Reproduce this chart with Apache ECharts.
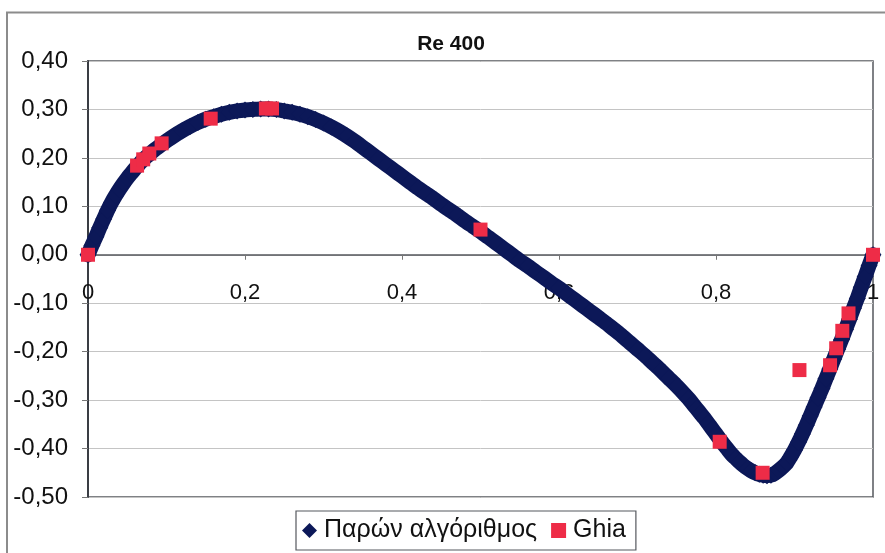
<!DOCTYPE html>
<html>
<head>
<meta charset="utf-8">
<script src="https://cdn.jsdelivr.net/npm/echarts@6/dist/echarts.min.js"></script>
<style>
  html, body { margin: 0; padding: 0; background: #ffffff; }
  #chart { width: 885px; height: 553px; }
</style>
</head>
<body>
<div id="chart"></div>
<script>
// Vertical velocity v along the horizontal centreline, Re = 400

const titleText = 'Re 400';
const seriesNames = ['Παρών αλγόριθμος', 'Ghia'];

// Present algorithm: x positions and v values
const curveX = [
  0.000, 0.005, 0.010, 0.015, 0.020, 0.025, 0.030, 0.035, 0.040, 0.045,
  0.050, 0.055, 0.060, 0.065, 0.070, 0.075, 0.080, 0.085, 0.090, 0.095,
  0.100, 0.11, 0.12, 0.13, 0.14, 0.15, 0.16, 0.17, 0.18, 0.19,
  0.20, 0.21, 0.22, 0.23, 0.24, 0.25, 0.26, 0.27, 0.28, 0.29,
  0.30, 0.31, 0.32, 0.33, 0.34, 0.35, 0.36, 0.37, 0.38, 0.39,
  0.40, 0.41, 0.42, 0.43, 0.44, 0.45, 0.46, 0.47, 0.48, 0.49,
  0.50, 0.51, 0.52, 0.53, 0.54, 0.55, 0.56, 0.57, 0.58, 0.59,
  0.60, 0.61, 0.62, 0.63, 0.64, 0.65, 0.66, 0.67, 0.68, 0.69,
  0.70, 0.71, 0.72, 0.73, 0.74, 0.75, 0.76, 0.765, 0.77, 0.775,
  0.78, 0.785, 0.79, 0.795, 0.80, 0.805, 0.81, 0.815, 0.82, 0.825,
  0.83, 0.835, 0.84, 0.845, 0.85, 0.855, 0.86, 0.865, 0.87, 0.875,
  0.88, 0.885, 0.89, 0.895, 0.90, 0.905, 0.91, 0.915, 0.92, 0.925,
  0.93, 0.935, 0.94, 0.945, 0.95, 0.955, 0.96, 0.965, 0.97, 0.975,
  0.98, 0.985, 0.99, 0.995, 1.000
];
const curveV = [
  0.000, 0.019, 0.037, 0.056, 0.074, 0.092, 0.108, 0.122, 0.135, 0.147,
  0.158, 0.168, 0.178, 0.187, 0.196, 0.203, 0.210, 0.217, 0.223, 0.229,
  0.235, 0.246, 0.256, 0.265, 0.273, 0.280, 0.285, 0.290, 0.294, 0.297,
  0.299, 0.300, 0.301, 0.301, 0.300, 0.297, 0.294, 0.290, 0.285, 0.279,
  0.272, 0.264, 0.255, 0.245, 0.234, 0.222, 0.210, 0.198, 0.186, 0.174,
  0.162, 0.150, 0.138, 0.127, 0.116, 0.104, 0.093, 0.082, 0.070, 0.059,
  0.048, 0.036, 0.024, 0.012, 0.000, -0.012, -0.023, -0.035, -0.046, -0.058,
  -0.069, -0.081, -0.093, -0.105, -0.117, -0.129, -0.141, -0.154, -0.167, -0.181,
  -0.195, -0.209, -0.224, -0.239, -0.255, -0.271, -0.288, -0.297, -0.307, -0.317,
  -0.327, -0.337, -0.348, -0.359, -0.370, -0.381, -0.392, -0.402, -0.412, -0.420,
  -0.428, -0.435, -0.441, -0.446, -0.450, -0.453, -0.455, -0.456, -0.455, -0.451,
  -0.445, -0.438, -0.430, -0.417, -0.403, -0.387, -0.370, -0.352, -0.333, -0.314,
  -0.295, -0.276, -0.256, -0.236, -0.215, -0.195, -0.175, -0.154, -0.133, -0.111,
  -0.090, -0.067, -0.045, -0.022, 0.000
];

// Ghia et al. reference values
const ghiaX = [0.0000, 0.0625, 0.0703, 0.0781, 0.0938, 0.1563, 0.2266, 0.2344, 0.5000,
               0.8047, 0.8594, 0.9063, 0.9453, 0.9531, 0.9609, 0.9688, 1.0000];
const ghiaV = [0.000, 0.184, 0.197, 0.209, 0.230, 0.281, 0.302, 0.302, 0.052,
               -0.386, -0.450, -0.238, -0.228, -0.193, -0.157, -0.121, 0.000];

// Axis ranges and tick steps
const xMin = 0, xMax = 1, xStep = 0.2;
const yMin = -0.5, yMax = 0.4, yStep = 0.1;

const FONT = 'Arial, "Liberation Sans", sans-serif';
const NAVY = '#0c1858';
const RED = '#ee2c47';

const GRID = { left: 88, top: 61, width: 785, height: 436 };
// the horizontal axis sits on v = 0, measured up from the bottom of the grid
const zeroOffset = -GRID.height * (0 - yMin) / (yMax - yMin);

const curveData = curveX.map((x, i) => [x, curveV[i]]);
const ghiaData = ghiaX.map((x, i) => [x, ghiaV[i]]);

const chart = echarts.init(document.getElementById('chart'), null, { renderer: 'canvas' });

chart.setOption({
  animation: false,
  backgroundColor: '#ffffff',
  graphic: [
    {
      type: 'rect',
      silent: true,
      shape: { x: 7, y: 12.5, width: 900, height: 600 },
      style: { fill: 'none', stroke: '#8c8c8c', lineWidth: 2 },
      z: -10
    },
    {
      type: 'text',
      silent: true,
      x: 451,
      y: 44,
      style: {
        text: titleText,
        fontFamily: FONT,
        fontSize: 21,
        fontWeight: 'bold',
        fill: '#111111',
        align: 'center',
        verticalAlign: 'middle'
      }
    }
  ],
  grid: {
    left: GRID.left,
    top: GRID.top,
    width: GRID.width,
    height: GRID.height,
    show: true,
    borderColor: '#55585e',
    borderWidth: 1.5,
    backgroundColor: 'transparent'
  },
  legend: {
    left: 296,
    top: 511,
    orient: 'horizontal',
    data: [
      { name: seriesNames[0], icon: 'diamond' },
      { name: seriesNames[1], icon: 'rect' }
    ],
    itemWidth: 15,
    itemHeight: 15,
    itemGap: 14,
    padding: [7, 10, 7, 6],
    borderColor: '#55585e',
    borderWidth: 1.2,
    textStyle: { fontFamily: FONT, fontSize: 25, color: '#111111', padding: [0, 0, 0, 2] }
  },
  xAxis: {
    type: 'value',
    min: xMin,
    max: xMax,
    interval: xStep,
    position: 'bottom',
    offset: zeroOffset,
    axisLine: { onZero: false, lineStyle: { color: '#55585e', width: 1.5 } },
    axisTick: { show: true, length: 5, lineStyle: { color: '#777777' } },
    splitLine: { show: false },
    axisLabel: {
      margin: 27,
      fontFamily: FONT,
      fontSize: 22,
      color: '#111111',
      formatter: v => (v === 0 ? '0' : Math.abs(v - 1) < 1e-9 ? '1' : v.toFixed(1).replace('.', ','))
    }
  },
  yAxis: {
    type: 'value',
    min: yMin,
    max: yMax,
    interval: yStep,
    axisLine: { show: true, onZero: false, lineStyle: { color: '#3a3d44', width: 2 } },
    axisTick: { show: true, length: 6, lineStyle: { color: '#777777' } },
    splitLine: { show: true, lineStyle: { color: '#c4c4c4', width: 1 } },
    axisLabel: {
      margin: 20,
      fontFamily: FONT,
      fontSize: 24,
      color: '#111111',
      formatter: v => v.toFixed(2).replace('.', ',')
    }
  },
  series: [
    {
      name: seriesNames[0],
      type: 'line',
      smooth: 0.2,
      symbol: 'diamond',
      symbolSize: 17,
      showAllSymbol: true,
      lineStyle: { color: NAVY, width: 15, join: 'round', cap: 'round' },
      itemStyle: { color: NAVY, borderWidth: 0, opacity: 1 },
      data: curveData,
      z: 2
    },
    {
      name: seriesNames[1],
      type: 'scatter',
      symbol: 'rect',
      symbolSize: 14,
      itemStyle: { color: RED, opacity: 1 },
      data: ghiaData,
      z: 3
    }
  ]
});
</script>
</body>
</html>
